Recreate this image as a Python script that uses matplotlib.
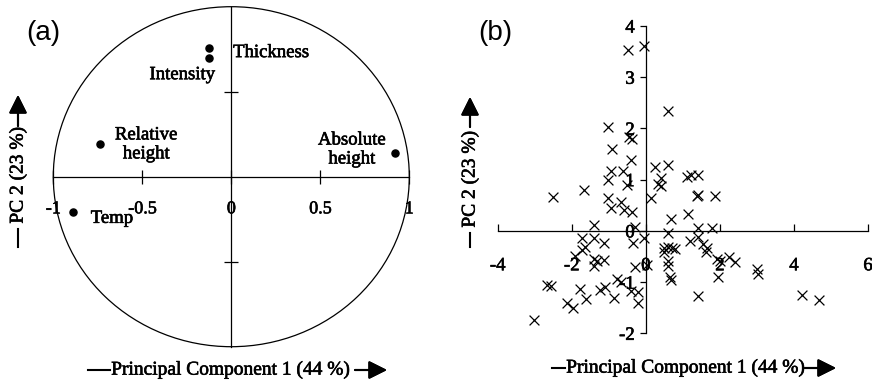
import numpy as np
import matplotlib
matplotlib.use("Agg")
import matplotlib.pyplot as plt
import matplotlib.patheffects as pe
from matplotlib.patches import Ellipse
from matplotlib.lines import Line2D

# ---- (a) loadings on the first two principal components ----
variables = ["Thickness", "Intensity", "Relative\nheight", "Absolute\nheight", "Temp"]
load_pc1 = [-0.124, -0.127, -0.74, 0.92, -0.89]
load_pc2 = [0.76, 0.70, 0.19, 0.14, -0.21]
a_xticks = [-1, -0.5, 0, 0.5, 1]
a_xticklabels = ["-1", "-0.5", "0", "0.5", "1"]
a_yticks = [-0.5, 0.5]

# ---- (b) sample scores ----
score_pc1 = [-0.49, -0.06, 0.59, -1.03, -0.45, -0.36, -0.91, -0.40, -0.95, -1.03,
             -0.61, -0.51, -1.03, -0.95, -0.67, -0.60, -0.36, -0.30, -2.50, -1.66,
             -1.41, -1.73, -1.41, -1.14, -1.64, -1.73, -1.92, -1.41, -1.32, -1.14,
             -1.41, -0.35, -0.06, -0.29, 0.03, -0.77, -0.68, -2.67, -2.56, -1.77,
             -1.62, -2.12, -1.98, -1.25, -1.10, -0.86, -0.40, -0.20, -0.20, -3.02,
             0.14, 0.25, 0.59, 0.41, 0.32, 0.41, 0.69, 0.61, 0.48, 0.59,
             0.71, 0.79, 0.50, 0.59, 0.59, 0.66, 0.68, 1.11, 1.22, 1.41,
             1.38, 1.41, 1.88, 1.15, 1.41, 1.80, 1.20, 1.42, 1.54, 1.65,
             1.62, 1.92, 1.99, 2.24, 2.41, 1.95, 1.42, 3.00, 3.02, 4.22,
             4.68]
score_pc2 = [3.54, 3.61, 2.35, 2.03, 1.84, 1.80, 1.59, 1.39, 1.16, 0.99,
             1.16, 0.89, 0.65, 0.44, 0.56, 0.41, 0.37, 0.08, 0.67, 0.80,
             0.11, -0.13, -0.14, -0.24, -0.32, -0.37, -0.49, -0.55, -0.58, -0.56,
             -0.68, -0.24, -0.13, -0.71, -0.66, -0.94, -1.00, -1.06, -1.08, -1.13,
             -1.34, -1.40, -1.50, -1.15, -1.10, -1.31, -1.17, -1.20, -1.41, -1.75,
             0.65, 1.25, 1.28, 1.04, 0.91, 0.87, 0.23, -0.05, -0.34, -0.32,
             -0.34, -0.36, -0.42, -0.58, -0.69, -0.91, -0.96, 1.05, 1.10, 1.09,
             0.68, 0.71, 0.69, 0.32, 0.05, 0.06, -0.19, -0.11, -0.25, -0.34,
             -0.42, -0.54, -0.58, -0.52, -0.61, -0.91, -1.28, -0.75, -0.84, -1.25,
             -1.35]
b_xticks = [-4, -2, 0, 2, 4, 6]
b_yticks = [-2, -1, 0, 1, 2, 3, 4]

xlabel_text = "Principal Component 1 (44 %)"
ylabel_text = "PC 2 (23 %)"

W, H = 872, 385
SERIF = "Liberation Serif"
SANS = "Liberation Sans"
LW = 0.9
BOLDEN = [pe.withStroke(linewidth=0.45, foreground="black")]

fig = plt.figure(figsize=(W / 100, H / 100), dpi=100)


def fx(px):
    return px / W


def fy(py):
    return 1 - py / H


ARROW = dict(arrowstyle="-|>,head_length=1.0,head_width=0.5", color="black",
             lw=1.5, mutation_scale=11, shrinkA=0, shrinkB=0)


def axis_label(x_text_left, x_text_right, y, x_dash0, x_dash1, x_arrow0, x_arrow1):
    """Horizontal axis caption: dash, text, arrow (pixel positions)."""
    fig.text(fx((x_text_left + x_text_right) / 2), fy(y), xlabel_text,
             ha="center", va="center", fontsize=14, family=SERIF, path_effects=BOLDEN)
    fig.add_artist(Line2D([fx(x_dash0), fx(x_dash1)], [fy(y), fy(y)],
                          transform=fig.transFigure, color="black", lw=1.5))
    fig.add_artist(plt.annotate("", xy=(fx(x_arrow1), fy(y)), xytext=(fx(x_arrow0), fy(y)),
                                xycoords="figure fraction", textcoords="figure fraction",
                                arrowprops=ARROW))


def vaxis_label(x, y_text_bottom, y_text_top, y_dash0, y_dash1, y_arrow0, y_arrow1):
    """Vertical axis caption: dash, rotated text, arrow (pixel positions)."""
    fig.text(fx(x), fy((y_text_bottom + y_text_top) / 2), ylabel_text,
             ha="center", va="center", rotation=90, fontsize=14, family=SERIF,
             path_effects=BOLDEN)
    fig.add_artist(Line2D([fx(x), fx(x)], [fy(y_dash0), fy(y_dash1)],
                          transform=fig.transFigure, color="black", lw=1.5))
    fig.add_artist(plt.annotate("", xy=(fx(x), fy(y_arrow1)), xytext=(fx(x), fy(y_arrow0)),
                                xycoords="figure fraction", textcoords="figure fraction",
                                arrowprops=ARROW))


# ================= panel (a): correlation circle =================
axa = fig.add_axes([fx(53.3), fy(346.7), fx(409.3) - fx(53.3), fy(6.7) - fy(346.7)])
axa.set_xlim(-1, 1)
axa.set_ylim(-1, 1)
axa.add_patch(Ellipse((0, 0), 2, 2, fill=False, edgecolor="black", lw=LW, clip_on=False))
for side in ("top", "right"):
    axa.spines[side].set_visible(False)
axa.spines["left"].set_position(("data", 0))
axa.spines["bottom"].set_position(("data", 0))
for side in ("left", "bottom"):
    axa.spines[side].set_linewidth(LW)
axa.set_xticks(a_xticks)
axa.set_xticklabels(a_xticklabels, family=SERIF, fontsize=13)
for t in axa.get_xticklabels():
    t.set_path_effects(BOLDEN)
axa.set_yticks(a_yticks)
axa.set_yticklabels([])
axa.tick_params(axis="x", direction="inout", length=10, width=LW, pad=12)
axa.tick_params(axis="y", direction="inout", length=10, width=LW)
axa.patch.set_visible(False)

axa.scatter(load_pc1, load_pc2, s=26, color="black", zorder=3, clip_on=False)
label_pos = {
    "Thickness": (0.01, 0.73, "left"),
    "Intensity": (-0.275, 0.60, "center"),
    "Relative\nheight": (-0.478, 0.19, "center"),
    "Absolute\nheight": (0.677, 0.16, "center"),
    "Temp": (-0.67, -0.245, "center"),
}
for name in variables:
    lx, ly, ha = label_pos[name]
    axa.text(lx, ly, name, ha=ha, va="center", multialignment="center",
             fontsize=13.5, family=SERIF, linespacing=1.15, path_effects=BOLDEN)

fig.text(fx(43), fy(33), "(a)", ha="center", va="center", fontsize=20, family=SANS)
axis_label(113, 349, 370, 88, 110, 355, 387)
vaxis_label(18, 222, 128, 247, 229, 126, 95)

# ================= panel (b): score plot =================
axb = fig.add_axes([fx(497.7), fy(333.3), fx(868) - fx(497.7), fy(26) - fy(333.3)])
axb.set_xlim(-4, 6)
axb.set_ylim(-2, 4)
for side in ("top", "right"):
    axb.spines[side].set_visible(False)
axb.spines["left"].set_position(("data", 0))
axb.spines["bottom"].set_position(("data", 0))
for side in ("left", "bottom"):
    axb.spines[side].set_linewidth(LW)
axb.set_xticks(b_xticks)
axb.set_xticklabels([str(v) for v in b_xticks], family=SERIF, fontsize=13.5)
axb.set_yticks(b_yticks)
axb.set_yticklabels([str(v) for v in b_yticks], family=SERIF, fontsize=13.5)
for t in axb.get_xticklabels() + axb.get_yticklabels():
    t.set_path_effects(BOLDEN)
axb.tick_params(axis="x", direction="in", length=5, width=LW, pad=19)
axb.tick_params(axis="y", direction="out", length=4, width=LW, pad=4)
axb.patch.set_visible(False)

axb.scatter(score_pc1, score_pc2, marker="x", s=50, color="black", linewidths=0.9,
            zorder=3, clip_on=False)

fig.text(fx(495), fy(33), "(b)", ha="center", va="center", fontsize=20, family=SANS)
axis_label(567, 805, 368, 552, 565, 805, 836)
vaxis_label(470, 230, 128, 247, 233, 127, 97)

fig.savefig("out.png", dpi=100)
